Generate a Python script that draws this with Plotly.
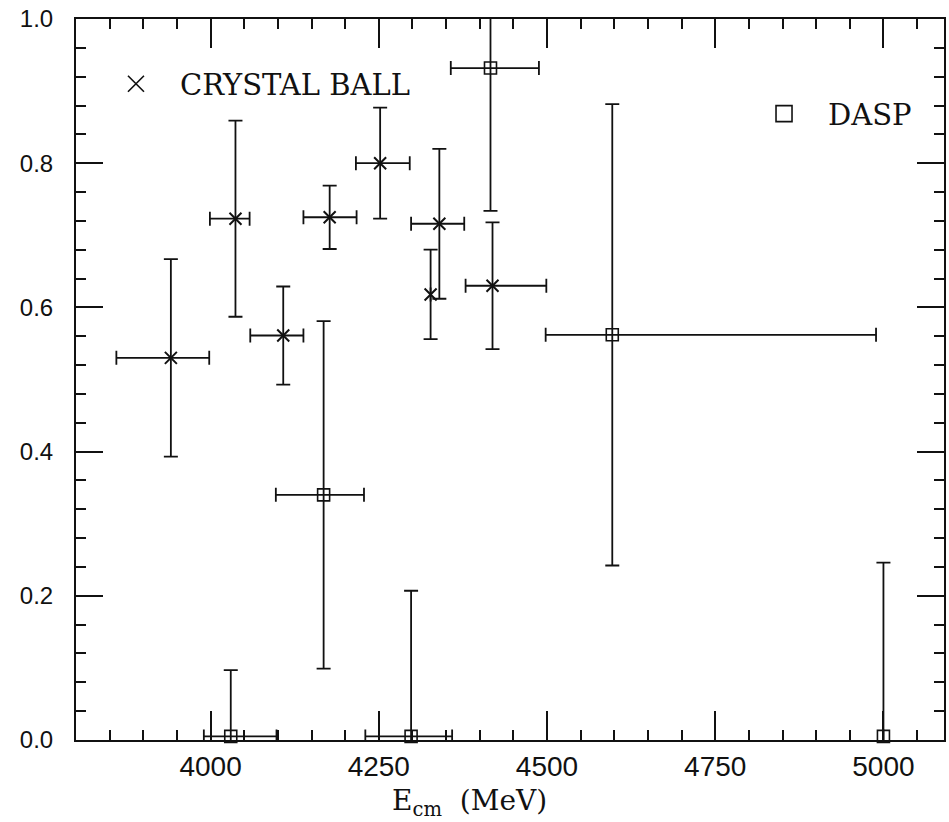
import plotly.graph_objects as go

# Crystal Ball measurements: centre-of-mass energy (MeV), ratio, errors
cb_energy = [3941, 4037, 4108, 4177, 4252, 4327, 4340, 4419]
cb_value = [0.530, 0.723, 0.561, 0.725, 0.800, 0.618, 0.716, 0.630]
cb_err = [0.137, 0.136, 0.068, 0.044, 0.077, 0.062, 0.104, 0.088]
cb_e_lo = [81, 38, 49, 39, 36, 0, 42, 40]
cb_e_hi = [57, 21, 30, 40, 44, 0, 37, 80]

# DASP measurements
dasp_energy = [4030, 4168, 4298, 4416, 4597, 5000]
dasp_value = [0.005, 0.340, 0.005, 0.932, 0.562, 0.005]
dasp_err = [0.092, 0.241, 0.202, 0.198, 0.320, 0.241]
dasp_e_lo = [40, 71, 68, 59, 99, 0]
dasp_e_hi = [68, 60, 61, 72, 392, 0]

# axis ranges and tick spacing (major, minor)
x_range = [3800, 5090]
y_range = [0.0, 1.0]
x_tick0, x_dtick, x_minor = 4000, 250, 50
y_tick0, y_dtick, y_minor = 0.0, 0.2, 0.04

INK = "#111111"
SERIF = "DejaVu Serif"
SANS = "Liberation Sans"


def err_y(vals):
    return dict(type="data", array=vals, symmetric=True, color=INK, thickness=1.8, width=7)


def err_x(lo, hi):
    return dict(type="data", array=hi, arrayminus=lo, symmetric=False,
                color=INK, thickness=1.8, width=7)


fig = go.Figure()

# error bars (clipped to the frame)
for xs, ys, ey, lo, hi in [(cb_energy, cb_value, cb_err, cb_e_lo, cb_e_hi),
                           (dasp_energy, dasp_value, dasp_err, dasp_e_lo, dasp_e_hi)]:
    fig.add_trace(go.Scatter(
        x=xs, y=ys, mode="markers",
        marker=dict(size=2, opacity=0),
        error_y=err_y(ey), error_x=err_x(lo, hi),
        showlegend=False, hoverinfo="skip",
    ))

# point markers, allowed to overhang the axis line
fig.add_trace(go.Scatter(
    x=cb_energy, y=cb_value, mode="markers", showlegend=False,
    marker=dict(symbol="x-thin", size=12, line=dict(width=2, color=INK), color=INK),
    cliponaxis=False,
))
fig.add_trace(go.Scatter(
    x=dasp_energy, y=dasp_value, mode="markers", showlegend=False,
    marker=dict(symbol="square-open", size=12, line=dict(width=1.6, color=INK), color=INK),
    cliponaxis=False,
))

# legend keys (drawn larger than the data markers)
fig.add_trace(go.Scatter(
    x=[None], y=[None], mode="markers", name="CRYSTAL BALL", legend="legend",
    marker=dict(symbol="x-thin", size=16, line=dict(width=1.6, color=INK), color=INK),
))
fig.add_trace(go.Scatter(
    x=[None], y=[None], mode="markers", name="DASP", legend="legend2",
    marker=dict(symbol="square-open", size=16, line=dict(width=1.6, color=INK), color=INK),
))

axis_common = dict(
    showline=True, linewidth=2, linecolor=INK, mirror="ticks",
    showgrid=False, zeroline=False, tickmode="linear",
    ticks="inside", tickwidth=2.2, tickcolor=INK,
)

fig.update_layout(
    xaxis=dict(**axis_common, range=x_range, tick0=x_tick0, dtick=x_dtick,
               ticklen=29, ticklabelstandoff=0,
               tickfont=dict(family=SANS, size=28, color=INK),
               minor=dict(tick0=x_tick0, dtick=x_minor, ticks="inside", ticklen=10,
                          tickwidth=1.6, tickcolor=INK, showgrid=False)),
    yaxis=dict(**axis_common, range=y_range, tick0=y_tick0, dtick=y_dtick,
               tickformat=".1f", ticklen=27, ticklabelstandoff=16,
               tickfont=dict(family=SANS, size=24, color=INK),
               minor=dict(tick0=y_tick0, dtick=y_minor, ticks="inside", ticklen=10,
                          tickwidth=1.6, tickcolor=INK, showgrid=False)),
)

legend_style = dict(
    xanchor="left", yanchor="middle", bgcolor="rgba(0,0,0,0)", borderwidth=0,
    font=dict(family=SERIF, size=29, color=INK), itemwidth=78,
)

fig.update_layout(
    width=949, height=822,
    margin=dict(l=76, r=3, t=19, b=82),
    paper_bgcolor="white", plot_bgcolor="white",
    legend=dict(x=0.0184, y=0.910, **legend_style),
    legend2=dict(x=0.765, y=0.8685, **legend_style),
    annotations=[dict(
        text="E<sub>cm</sub>  (MeV)", xref="paper", yref="paper",
        x=0.453, y=-0.087, xanchor="center", yanchor="middle",
        showarrow=False, font=dict(family=SERIF, size=28, color=INK),
    )],
)

fig.write_html("out.html")
